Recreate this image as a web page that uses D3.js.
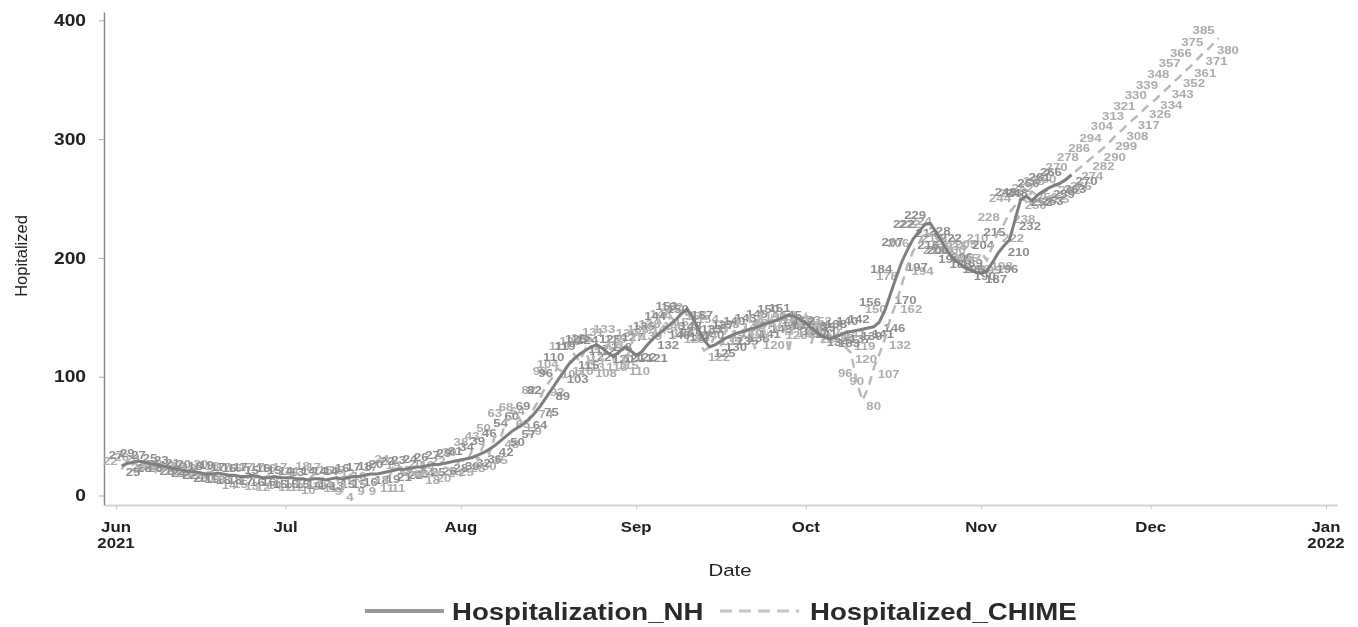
<!DOCTYPE html>
<html lang="en">
<head>
<meta charset="UTF-8">
<title>Hospitalization NH vs CHIME</title>
<script src="https://d3js.org/d3.v7.min.js"></script>
<style>
  body { margin: 0; background: #fff; }
  svg { font-family: "Liberation Sans", Arial, sans-serif; }
</style>
</head>
<body>
<div id="chart"></div>
<script>
// daily values, first point is Jun 2 2021
const startDate = new Date(2021, 5, 2);

const nhJun = [25, 27, 28, 29, 28, 27, 26, 25, 24, 23, 22, 21, 20, 20, 19, 18, 18, 19, 18, 17, 17, 16, 16, 17, 16, 15, 15, 16, 15];
const nhJul = [15, 15, 14, 14, 13, 14, 14, 13, 14, 15, 14, 15, 16, 16, 17, 18, 18, 19, 20, 21, 22, 22, 23, 24, 24, 25, 26, 26, 27, 28, 29];
const nhAug = [30, 31, 32, 34, 36, 39, 42, 46, 50, 54, 57, 60, 64, 69, 75, 82, 89, 96, 103, 110, 115, 119, 122, 125, 127, 124, 120, 117, 121, 125, 122];
const nhSep = [118, 121, 127, 132, 136, 140, 144, 148, 153, 157, 150, 140, 131, 125, 127, 130, 133, 135, 137, 138, 140, 141, 143, 145, 146, 148, 150, 152, 151, 148];
const nhOct = [145, 141, 137, 134, 132, 133, 135, 137, 138, 139, 140, 141, 142, 146, 156, 170, 184, 197, 207, 216, 222, 228, 229, 222, 214, 206, 200, 196, 192, 190, 188];
const nhNov = [187, 189, 196, 204, 210, 215, 232, 249, 252, 248, 253, 256, 259, 261, 263, 266, 270];

const chimeJun = [22, 29, 26, 30, 24, 29, 20, 26, 20, 24, 19, 22, 18, 20, 16, 19, 20, 14, 18, 15, 17, 13, 16, 12, 17, 14, 17, 12, 16];
const chimeJul = [12, 17, 10, 14, 13, 18, 11, 17, 9, 15, 4, 15, 9, 12, 9, 10, 11, 17, 11, 24, 25, 19, 23, 15, 18, 20, 20, 19, 24, 22, 25];
const chimeAug = [30, 28, 38, 30, 43, 35, 50, 48, 63, 65, 68, 59, 64, 74, 82, 92, 98, 107, 104, 110, 119, 113, 123, 108, 126, 113, 131, 115, 133, 110, 125];
const chimeSep = [139, 130, 145, 133, 148, 138, 151, 146, 156, 152, 154, 130, 122, 125, 135, 127, 141, 133, 147, 138, 150, 123, 155, 130, 150, 137, 154, 120, 153, 143];
const chimeOct = [152, 128, 148, 130, 138, 129, 141, 125, 120, 96, 80, 90, 107, 119, 132, 150, 162, 178, 194, 206, 212, 222, 219, 224, 215, 210, 205, 201, 196, 200, 195];
const chimeNov = [205, 198, 210, 222, 228, 238, 244, 250, 248, 256, 252, 255, 258, 262, 260, 266, 270, 274, 278, 282, 286, 290, 294, 299, 304, 308, 313, 317, 321, 326];
const chimeDec = [330, 334, 339, 343, 348, 352, 357, 361, 366, 371, 375, 380, 385];

const yTicks = [0, 100, 200, 300, 400];
const xTicks = [new Date(2021, 5, 1), new Date(2021, 6, 1), new Date(2021, 7, 1), new Date(2021, 8, 1),
                new Date(2021, 9, 1), new Date(2021, 10, 1), new Date(2021, 11, 1), new Date(2022, 0, 1)];
const xTickLabels = [["Jun", "2021"], ["Jul"], ["Aug"], ["Sep"], ["Oct"], ["Nov"], ["Dec"], ["Jan", "2022"]];
const seriesNames = ["Hospitalization_NH", "Hospitalized_CHIME"];

const nhValues = [].concat(nhJun, nhJul, nhAug, nhSep, nhOct, nhNov);
const chimeValues = [].concat(chimeJun, chimeJul, chimeAug, chimeSep, chimeOct, chimeNov, chimeDec);
const toPoints = vals => vals.map((v, i) => ({ date: d3.timeDay.offset(startDate, i), value: v }));
const nh = toPoints(nhValues);
const chime = toPoints(chimeValues);

const width = 1358, height = 627;
const stretch = "scale(1.2,1)";   // the original picture is a bit wide

const svg = d3.select("#chart").append("svg")
    .attr("width", width)
    .attr("height", height);

const blur = svg.append("defs").append("filter").attr("id", "soft");
blur.append("feGaussianBlur").attr("stdDeviation", 0.45);

const root = svg.append("g").attr("filter", "url(#soft)");

const x = d3.scaleTime()
    .domain([new Date(2021, 4, 30), new Date(2022, 0, 3)])
    .range([104.7, 1337.3]);

const y = d3.scaleLinear()
    .domain([-8, 407])
    .range([505, 12]);

// x axis
const xAxis = root.append("g")
    .attr("transform", "translate(0,505)")
    .call(d3.axisBottom(x).tickValues(xTicks).tickSize(4).tickSizeOuter(0).tickFormat(""));
xAxis.select(".domain").attr("stroke", "#d4d4d4").attr("stroke-width", 2);
xAxis.selectAll(".tick line").attr("stroke", "#c8c8c8");

root.append("g").selectAll("text")
    .data(xTicks)
    .join("text")
    .attr("transform", d => `translate(${x(d)},532) ${stretch}`)
    .attr("text-anchor", "middle")
    .style("font-size", "14px")
    .style("font-weight", "bold")
    .attr("fill", "#222")
    .each(function(d, i) {
        const t = d3.select(this);
        xTickLabels[i].forEach((s, j) => {
            t.append("tspan").attr("x", 0).attr("dy", j === 0 ? 0 : 16).text(s);
        });
    });

// y axis
const yAxis = root.append("g")
    .attr("transform", "translate(104,0)")
    .call(d3.axisLeft(y).tickValues(yTicks).tickSize(5).tickSizeOuter(0).tickPadding(10));
yAxis.select(".domain").attr("stroke", "#8a8a8a").attr("stroke-width", 1.5);
yAxis.selectAll(".tick line").attr("stroke", "#aaa");
yAxis.selectAll(".tick text")
    .attr("transform", stretch)
    .attr("fill", "#222")
    .style("font-size", "16px")
    .style("font-weight", "bold")
    .style("font-family", "'Liberation Sans', Arial, sans-serif");

root.append("text")
    .attr("transform", "translate(27,256) rotate(-90)")
    .attr("text-anchor", "middle")
    .style("font-size", "16.5px")
    .attr("fill", "#222")
    .text("Hopitalized");

root.append("text")
    .attr("transform", `translate(730,576) ${stretch}`)
    .attr("text-anchor", "middle")
    .style("font-size", "17px")
    .attr("fill", "#222")
    .text("Date");

// data labels
function addLabels(points, color, size, flip) {
    root.append("g").selectAll("text")
        .data(points)
        .join("text")
        .attr("transform", (d, i) => {
            const up = (i + flip) % 2 === 0;
            const px = x(d.date) + (up ? -4 : 4);
            const py = y(d.value) + (up ? -4 : 10);
            return `translate(${px},${py}) ${stretch}`;
        })
        .attr("text-anchor", (d, i) => (i + flip) % 2 === 0 ? "end" : "start")
        .style("font-size", size + "px")
        .style("font-weight", "bold")
        .attr("fill", color)
        .text(d => d.value);
}
addLabels(chime, "#acacac", 11, 0);
addLabels(nh, "#8d8d8d", 11, 1);

const line = d3.line()
    .x(d => x(d.date))
    .y(d => y(d.value));

root.append("path")
    .datum(chime)
    .attr("fill", "none")
    .attr("stroke", "#b9b9b9")
    .attr("stroke-width", 2.5)
    .attr("stroke-dasharray", "9,6")
    .attr("d", line);

root.append("path")
    .datum(nh)
    .attr("fill", "none")
    .attr("stroke", "#7e7e7e")
    .attr("stroke-width", 3)
    .attr("d", line);

// legend
const legend = root.append("g");
legend.append("line")
    .attr("x1", 365).attr("x2", 444).attr("y1", 611).attr("y2", 611)
    .attr("stroke", "#9a9a9a").attr("stroke-width", 4);
legend.append("line")
    .attr("x1", 720).attr("x2", 799).attr("y1", 611).attr("y2", 611)
    .attr("stroke", "#c4c4c4").attr("stroke-width", 3).attr("stroke-dasharray", "12,7");
[[452, seriesNames[0]], [810, seriesNames[1]]].forEach(([lx, name]) => {
    legend.append("text")
        .attr("transform", `translate(${lx},620) ${stretch}`)
        .style("font-size", "23px")
        .style("font-weight", "bold")
        .attr("fill", "#2a2a2a")
        .text(name);
});
</script>
</body>
</html>
